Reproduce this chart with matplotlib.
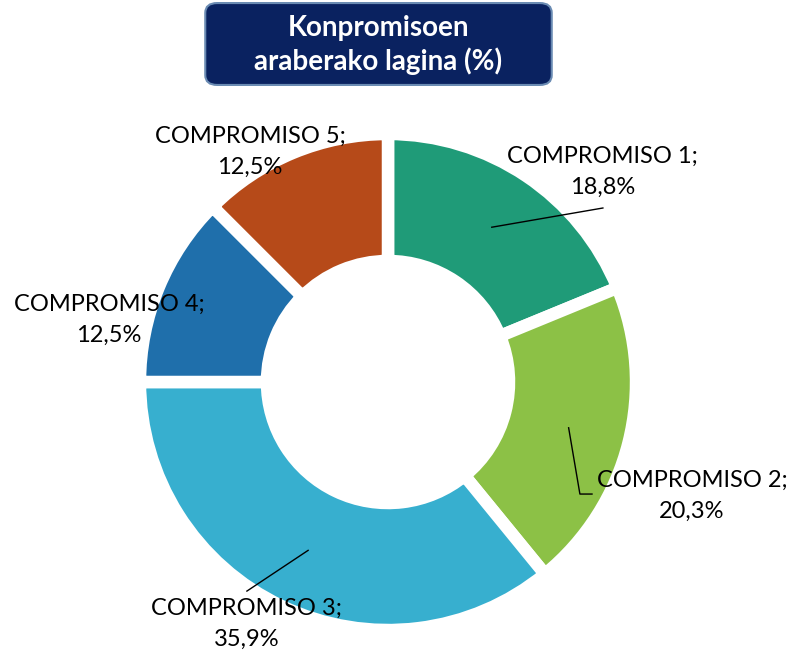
import numpy as np
import matplotlib
matplotlib.use("Agg")
import matplotlib.pyplot as plt
from matplotlib.patches import FancyBboxPatch

plt.rcParams['font.family'] = ['Lato', 'DejaVu Sans']

# data
labels = ["COMPROMISO 1", "COMPROMISO 2", "COMPROMISO 3", "COMPROMISO 4", "COMPROMISO 5"]
values = [18.8, 20.3, 35.9, 12.5, 12.5]
colors = ["#1f9b78", "#8cc146", "#37afcf", "#1f6fab", "#b64a19"]
title = "Konpromisoen\naraberako lagina (%)"

# label positions (axes data units, 1 = ring radius) and leader line ends
label_pos = [(0.888, 0.868), (1.256, -0.471), (-0.583, -1.0), (-1.153, 0.256), (-0.570, 0.950)]
leader_end = [[(0.888, 0.719)], [(0.793, -0.463), (0.843, -0.463)], [(-0.583, -0.864)], None, None]

W, H = 790, 658
fig = plt.figure(figsize=(W / 100, H / 100), dpi=100)

cx, cy, r = 388, 382, 242
ax = fig.add_axes([(cx - r) / W, (H - cy - r) / H, 2 * r / W, 2 * r / H])

wedges, _ = ax.pie(values, colors=colors, startangle=90, counterclock=False,
                   radius=1.025,
                   wedgeprops=dict(width=0.525, edgecolor='white', linewidth=9))
ax.set_xlim(-1, 1)
ax.set_ylim(-1, 1)
ax.set_aspect('equal')
ax.axis('off')

for i, w in enumerate(wedges):
    mid = np.deg2rad((w.theta1 + w.theta2) / 2)
    x, y = label_pos[i]
    ax.text(x, y, "%s;\n%s%%" % (labels[i], ("%.1f" % values[i]).replace('.', ',')),
            ha='center', va='center', fontsize=17, color='black',
            linespacing=1.6, clip_on=False)
    if leader_end[i] is not None:
        pts = [(0.77 * np.cos(mid), 0.77 * np.sin(mid))] + leader_end[i]
        xs, ys = zip(*pts)
        ax.plot(xs, ys, color='black', lw=1, clip_on=False)

# title box
box = FancyBboxPatch((210 / W, 577 / H), 337 / W, 74 / H,
                     boxstyle="round,pad=0.006,rounding_size=0.015",
                     transform=fig.transFigure, facecolor='#0a2260',
                     edgecolor='#6a8bb3', linewidth=1.5)
fig.patches.append(box)
fig.text(378 / W, (H - 45) / H, title, ha='center', va='center', color='white',
         fontsize=20, fontweight='bold', linespacing=1.25)

fig.savefig("out.png", dpi=100)
